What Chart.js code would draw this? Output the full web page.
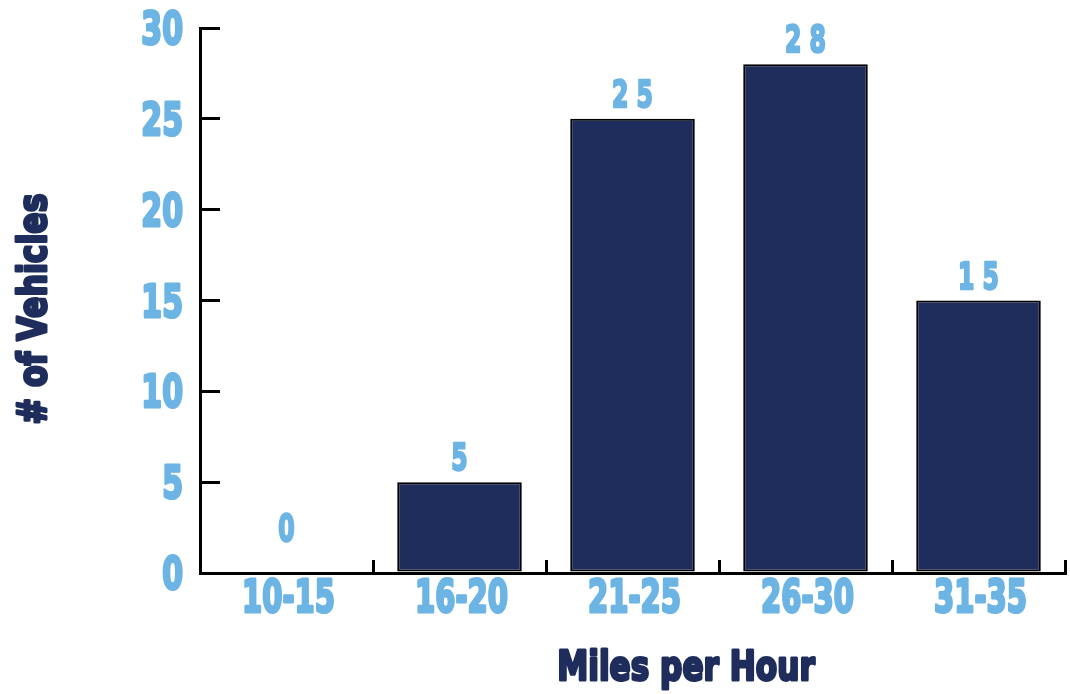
<!DOCTYPE html>
<html>
<head>
<meta charset="utf-8">
<script src="https://cdn.jsdelivr.net/npm/chart.js@4.4.1/dist/chart.umd.min.js"></script>
<style>
  html, body { margin: 0; padding: 0; background: #fff; }
  #wrap { width: 1070px; height: 694px; position: relative; }
</style>
</head>
<body>
<div id="wrap"><canvas id="chart"></canvas></div>
<script>
const speedRanges = ["10-15", "16-20", "21-25", "26-30", "31-35"];
const vehicleCounts = [0, 5, 25, 28, 15];
const countTicks = [0, 5, 10, 15, 20, 25, 30];

const lightBlue = "#6cb4e4";
const navy = "#1e2d5b";
const heavyFont = "'DejaVu Sans', 'Liberation Sans', sans-serif";

// heavy, squeezed text (poor man's Impact)
function squeezed(ctx, txt, x, y, opts) {
  const spacing = opts.spacing || 0;
  ctx.save();
  ctx.translate(x, y);
  if (opts.rotate) ctx.rotate(opts.rotate);
  ctx.scale(opts.sx, 1);
  ctx.font = "bold " + opts.size + "px " + heavyFont;
  ctx.textAlign = opts.align || "center";
  ctx.textBaseline = "alphabetic";
  if ("letterSpacing" in ctx) ctx.letterSpacing = spacing + "px";
  // letterSpacing leaves a trailing gap, pull it back to keep the text centred
  const dx = opts.align ? 0 : spacing / 2;
  ctx.fillStyle = opts.color;
  ctx.strokeStyle = opts.color;
  ctx.lineWidth = opts.stroke || 2.5;
  ctx.lineJoin = "round";
  ctx.strokeText(txt, dx, 0);
  ctx.fillText(txt, dx, 0);
  ctx.restore();
}

const textLayer = {
  id: "textLayer",
  afterDraw(chart) {
    const ctx = chart.ctx;
    const xs = chart.scales.x;
    const ys = chart.scales.y;

    // y tick labels
    countTicks.forEach(v => {
      squeezed(ctx, String(v), ys.right - 17, ys.getPixelForValue(v) + 16,
        { size: 44, sx: 0.68, stroke: 3, align: "right", color: lightBlue });
    });

    // category labels
    speedRanges.forEach((lab, i) => {
      squeezed(ctx, lab, xs.getPixelForValue(i) + 2, xs.top + 39,
        { size: 44, sx: 0.66, stroke: 3, color: lightBlue });
    });

    // values above bars
    const meta = chart.getDatasetMeta(0);
    meta.data.forEach((bar, i) => {
      const y = Math.min(bar.y - 12, bar.base - 32);
      squeezed(ctx, String(vehicleCounts[i]), bar.x, y,
        { size: 38, sx: 0.62, spacing: 13, stroke: 2.5, color: lightBlue });
    });

    // axis titles
    squeezed(ctx, "Miles per Hour", 686, 680,
      { size: 41, sx: 0.76, stroke: 3, color: navy });
    squeezed(ctx, "# of Vehicles", 46, 309,
      { size: 39, sx: 0.81, stroke: 3, rotate: -Math.PI / 2, color: navy });
  }
};

const ctx = document.getElementById("chart").getContext("2d");
const myChart = new Chart(ctx, {
  type: "bar",
  data: {
    labels: speedRanges,
    datasets: [{
      data: vehicleCounts,
      backgroundColor: navy,
      borderColor: "#000",
      borderWidth: 2,
      borderSkipped: false,
      categoryPercentage: 1,
      barPercentage: 0.72
    }]
  },
  options: {
    responsive: true,
    maintainAspectRatio: false,
    animation: false,
    layout: { padding: { top: 28, right: 5, left: 0, bottom: 0 } },
    plugins: {
      legend: { display: false },
      tooltip: { enabled: false }
    },
    scales: {
      x: {
        grid: {
          drawOnChartArea: false,
          color: "#000",
          lineWidth: 3,
          tickLength: -13
        },
        border: { color: "#000", width: 3 },
        ticks: { display: false },
        afterFit(scale) {
          scale.height = 121;
          scale.paddingLeft = 0;
          scale.paddingRight = 0;
        }
      },
      y: {
        min: 0,
        max: 30,
        afterBuildTicks(scale) {
          scale.ticks = countTicks.map(v => ({ value: v }));
        },
        grid: {
          drawOnChartArea: false,
          color: "#000",
          lineWidth: 3,
          tickLength: -20
        },
        border: { color: "#000", width: 3 },
        ticks: { display: false },
        afterFit(scale) {
          scale.width = 200;
          scale.paddingTop = 0;
          scale.paddingBottom = 0;
        }
      }
    }
  },
  plugins: [textLayer]
});
</script>
</body>
</html>
